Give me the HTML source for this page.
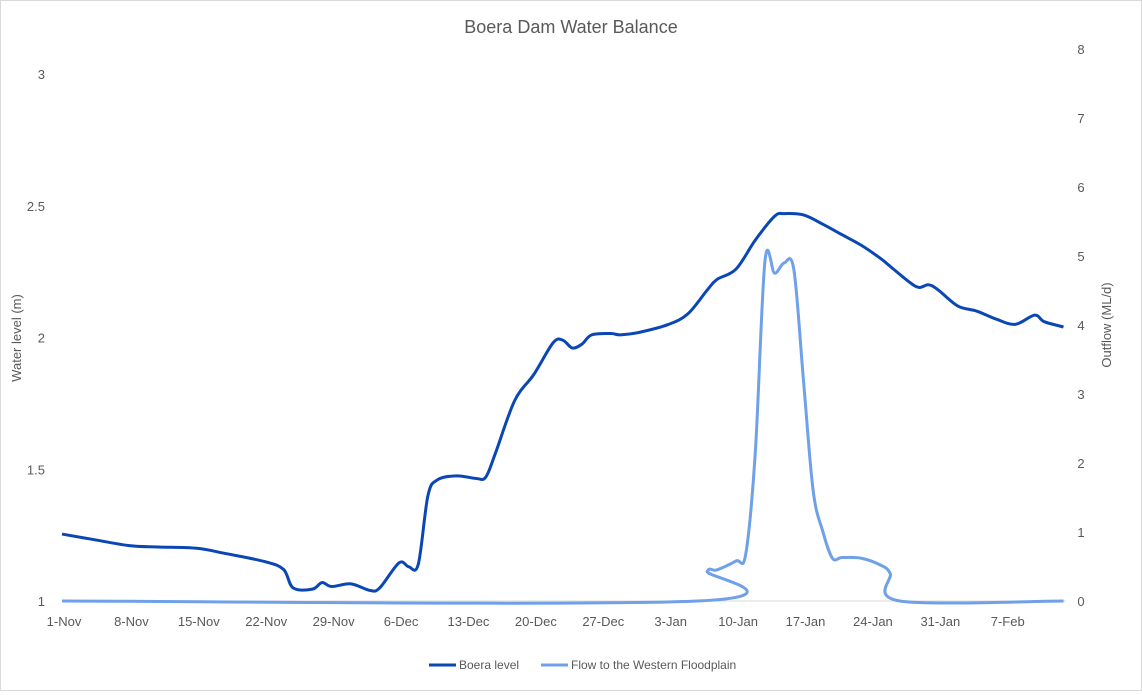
<!DOCTYPE html>
<html><head><meta charset="utf-8"><style>
body{margin:0;background:#fff;font-family:"Liberation Sans",sans-serif;}
#wrap{position:relative;width:1140px;height:689px;border:1px solid #d9d9d9;}
</style></head><body>
<div id="wrap">
<svg id="chart" width="1140" height="689"></svg>
</div>
<script>
const dayLabels=["1-Nov","8-Nov","15-Nov","22-Nov","29-Nov","6-Dec","13-Dec","20-Dec","27-Dec","3-Jan","10-Jan","17-Jan","24-Jan","31-Jan","7-Feb"];
const leftTicks=[1,1.5,2,2.5,3];
const rightTicks=[0,1,2,3,4,5,6,7,8];
const levelDays=[0,3,7,10,14,17,21,23,24,26,27,28,30,32,33,35,36,37,38,39,41,43,44,45,47,49,51,52,53,54,55,57,58,60,63,65,67,68,70,72,74,75,77,79,81,83,85,86,88,89,90,91,93,95,97,99,101,102,104];
const levelVals=[1.254,1.235,1.21,1.205,1.2,1.18,1.15,1.12,1.05,1.045,1.07,1.055,1.065,1.04,1.05,1.145,1.13,1.14,1.4,1.46,1.475,1.465,1.47,1.56,1.76,1.86,1.98,1.99,1.96,1.975,2.01,2.015,2.01,2.02,2.05,2.09,2.18,2.22,2.26,2.37,2.46,2.47,2.465,2.43,2.39,2.35,2.3,2.27,2.21,2.19,2.2,2.18,2.12,2.1,2.07,2.05,2.085,2.06,2.04];
const flowDays=[0,66,67,68,70,71,72,73,74,75,76,77,78,79,80,81,83,85,86,87,104];
const flowVals=[0,0,0.43,0.45,0.58,0.68,2.17,4.93,4.75,4.9,4.8,3.19,1.6,1.01,0.62,0.63,0.62,0.52,0.4,0,0];
const ns="http://www.w3.org/2000/svg";
const svg=document.getElementById('chart');
const x0=61,dpx=9.63,yB=600;
const xS=d=>x0+d*dpx;
const yL=v=>yB-(v-1)*263.5;
const yR=v=>yB-v*69;
function mk(t,a,txt){const e=document.createElementNS(ns,t);for(const k in a)e.setAttribute(k,a[k]);if(txt!==undefined)e.textContent=txt;svg.appendChild(e);return e;}
let e=mk('text',{x:570,y:32,'text-anchor':'middle','font-size':18,fill:'#595959'},'Boera Dam  Water Balance');


leftTicks.forEach(v=>{const t=mk('text',{x:44,y:yL(v)+5,'text-anchor':'end','font-size':13,fill:'#595959'},String(v));

});
rightTicks.forEach(v=>{const t=mk('text',{x:1080,y:yR(v)+5,'text-anchor':'middle','font-size':13,fill:'#595959'},String(v));

});
dayLabels.forEach((l,i)=>{const t=mk('text',{x:xS(i*7)+2,y:625,'text-anchor':'middle','font-size':13,fill:'#595959'},l);

});
e=mk('text',{x:0,y:0,transform:'translate(20,337) rotate(-90)','text-anchor':'middle','font-size':13,fill:'#595959'},'Water level (m)');


e=mk('text',{x:0,y:0,transform:'translate(1110,324) rotate(-90)','text-anchor':'middle','font-size':13,fill:'#595959'},'Outflow (ML/d)');


e=mk('line',{x1:x0,x2:1065,y1:yB,y2:yB,stroke:'#d9d9d9','stroke-width':1});


function path(ds,vs,ys){const p=ds.map((d,i)=>[xS(d),ys(vs[i])]);let s=`M${p[0][0]},${p[0][1]}`;
for(let i=0;i<p.length-1;i++){const a=p[i-1]||p[i],b=p[i],c=p[i+1],d=p[i+2]||c;
const c1=[b[0]+(c[0]-a[0])/6,b[1]+(c[1]-a[1])/6],c2=[c[0]-(d[0]-b[0])/6,c[1]-(d[1]-b[1])/6];
s+=`C${c1[0]},${c1[1]} ${c2[0]},${c2[1]} ${c[0]},${c[1]}`;}return s;}
e=mk('path',{d:path(flowDays,flowVals,yR),fill:'none',stroke:'#6fa0e8','stroke-width':3});


e=mk('path',{d:path(levelDays,levelVals,yL),fill:'none',stroke:'#0a47b5','stroke-width':3});


e=mk('line',{x1:428,x2:455,y1:664,y2:664,stroke:'#0a47b5','stroke-width':3});


e=mk('text',{x:458,y:668,'font-size':12,fill:'#595959'},'Boera level');


e=mk('line',{x1:540,x2:567,y1:664,y2:664,stroke:'#6fa0e8','stroke-width':3});


e=mk('text',{x:570,y:668,'font-size':12,fill:'#595959'},'Flow to the Western Floodplain');


</script>
</body></html>
